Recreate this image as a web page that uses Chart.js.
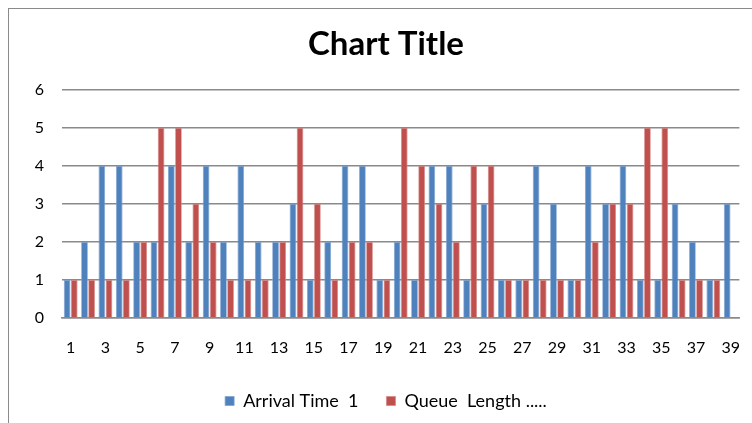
<!DOCTYPE html>
<html>
<head>
<meta charset="utf-8">
<script src="https://cdn.jsdelivr.net/npm/chart.js@4/dist/chart.umd.min.js"></script>
<style>
  html, body { margin: 0; padding: 0; background: #fff; overflow: hidden; }
  #frame {
    position: absolute; left: 8px; top: 8px; width: 744px; height: 415px;
    border-left: 1.5px solid #8a8a8a; border-top: 1.5px solid #8a8a8a;
    box-sizing: border-box;
  }
  #wrap { position: absolute; left: 9px; top: 9px; width: 743px; height: 414px; }
</style>
</head>
<body>
<div id="frame"></div>
<div id="wrap"><canvas id="grafico"></canvas></div>
<script>
// categorias 1..39
const categorias = [];
for (let i = 1; i <= 39; i++) categorias.push(String(i));

const arrivalTime = [1, 2, 4, 4, 2, 2, 4, 2, 4, 2, 4, 2, 2, 3, 1, 2, 4, 4, 1, 2,
                     1, 4, 4, 1, 3, 1, 1, 4, 3, 1, 4, 3, 4, 1, 1, 3, 2, 1, 3];
const queueLength = [1, 1, 1, 1, 2, 5, 5, 3, 2, 1, 1, 1, 2, 5, 3, 1, 2, 2, 1, 5,
                     4, 3, 2, 4, 4, 1, 1, 1, 1, 1, 2, 3, 3, 5, 5, 1, 1, 1, 0];

const fonte = "Lato, 'Open Sans', sans-serif";

let grafico = new Chart(document.getElementById("grafico"), {
  type: "bar",
  data: {
    labels: categorias,
    datasets: [
      {
        label: "Arrival Time  1",
        data: arrivalTime,
        backgroundColor: "#4f81bd",
        borderColor: "#7fa3d0",
        borderWidth: 0.8,
        categoryPercentage: 0.82,
        barPercentage: 0.94,
      },
      {
        label: "Queue  Length .....",
        data: queueLength,
        backgroundColor: "#c0504d",
        borderColor: "#d58a88",
        borderWidth: 0.8,
        categoryPercentage: 0.82,
        barPercentage: 0.94,
      },
    ],
  },
  options: {
    responsive: true,
    maintainAspectRatio: false,
    animation: false,
    layout: { padding: { left: 0, right: -11, top: 0, bottom: 3 } },
    plugins: {
      title: {
        display: true,
        text: "Chart Title",
        color: "#000",
        font: { family: fonte, size: 33, weight: "bold" },
        padding: { top: 16, bottom: 25 },
      },
      legend: {
        position: "bottom",
        labels: {
          color: "#000",
          font: { family: fonte, size: 18 },
          boxWidth: 9,
          boxHeight: 9,
          padding: 28,
        },
      },
      tooltip: { enabled: false },
    },
    scales: {
      x: {
        grid: { display: false },
        border: { display: true, color: "#8a8a8a", width: 1.5 },
        ticks: {
          color: "#000",
          font: { family: fonte, size: 16 },
          autoSkip: false,
          maxRotation: 0,
          padding: 12,
          callback: function (v, i) { return i % 2 === 0 ? categorias[i] : ""; },
        },
        afterFit: function (s) { s.height = 46; },
      },
      y: {
        min: 0,
        max: 6,
        grid: { color: "#8a8a8a", lineWidth: 1.5, drawTicks: false },
        border: { display: false },
        ticks: {
          stepSize: 1,
          color: "#000",
          font: { family: fonte, size: 16 },
          padding: 18,
        },
        afterFit: function (s) { s.width = 53; },
      },
    },
  },
});
</script>
</body>
</html>
